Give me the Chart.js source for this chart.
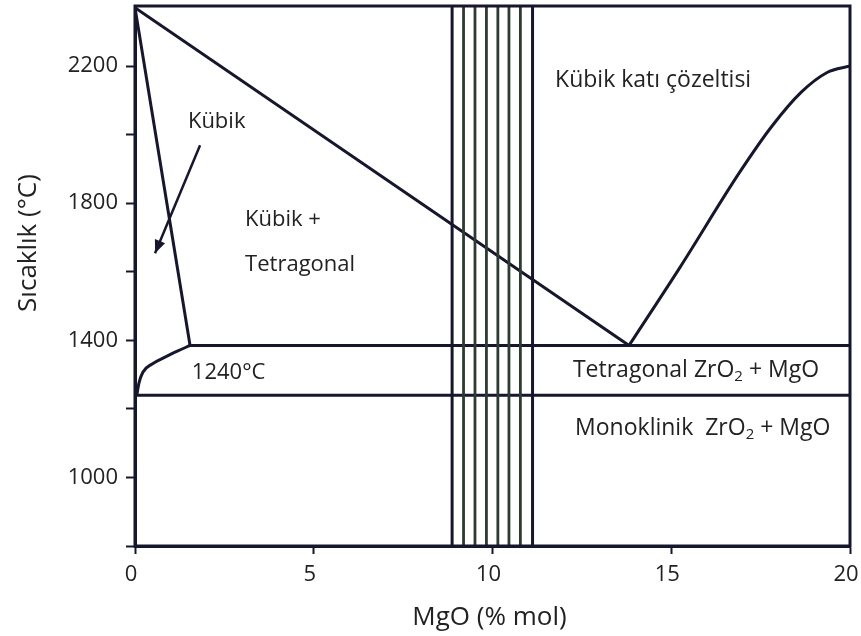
<!DOCTYPE html>
<html>
<head>
<meta charset="utf-8">
<script src="https://cdn.jsdelivr.net/npm/chart.js@4/dist/chart.umd.min.js"></script>
<style>
  html, body { margin: 0; padding: 0; background: #ffffff; }
  #wrap { width: 861px; height: 636px; }
</style>
</head>
<body>
<div id="wrap"><canvas id="c" width="861" height="636"></canvas></div>
<script>
// ZrO2–MgO phase diagram: MgO content (% mol) vs temperature (°C)

// axis ranges and tick labels
const xTickValues = [0, 5, 10, 15, 20];
const yTickValues = [800, 1000, 1200, 1400, 1600, 1800, 2000, 2200];
const yTickLabels = [1000, 1400, 1800, 2200];
const yRange = [800, 2375];

// cubic / (cubic + tetragonal) boundary from the apex
const cubicSolvusX = [0, 1.54];
const cubicSolvusY = [2370, 1385];

// long boundary from the apex down to the eutectoid point
const liquidusX = [0, 13.82];
const liquidusY = [2370, 1385];

// cubic solid solution boundary rising to the right edge
const cubicEdgeX = [13.82, 15.24, 16.92, 17.82, 18.63, 19.36, 20];
const cubicEdgeY = [1385, 1612, 1891, 2025, 2123, 2181, 2200];

// small tetragonal boundary near 0 % MgO
const tetraSolvusX = [0.05, 0.11, 0.22, 0.48, 0.84, 1.2, 1.54];
const tetraSolvusY = [1240, 1275, 1307, 1331, 1351, 1369, 1385];

// horizontal isotherms
const eutectoidX = [1.54, 20];
const eutectoidY = [1385, 1385];
const monoclinicX = [0, 20];
const monoclinicY = [1240, 1240];

// hatched composition band
const bandEdges = [8.87, 11.12];
const bandHatch = [9.19, 9.51, 9.83, 10.15, 10.46, 10.78];

// pointer from the "Kübik" label
const arrowX = [1.82, 0.56];
const arrowY = [1969, 1654];

// region labels (data coordinates of the text's left edge / middle)
const regionLabels = [
  { parts: [['Kübik']], x: 1.48, y: 2037, size: 22 },
  { parts: [['Kübik +']], x: 3.08, y: 1751, size: 22 },
  { parts: [['Tetragonal']], x: 3.08, y: 1620, size: 22 },
  { parts: [['Kübik katı çözeltisi']], x: 11.75, y: 2159, size: 23 },
  { parts: [['1240°C']], x: 1.59, y: 1305, size: 22 },
  { parts: [['Tetragonal ZrO'], ['2', 'sub'], [' + MgO']], x: 12.25, y: 1313, size: 23 },
  { parts: [['Monoklinik  ZrO'], ['2', 'sub'], [' + MgO']], x: 12.31, y: 1144, size: 23 }
];

const INK = '#16162c';
const TEXT = '#222222';
const HATCH = '#2e3b33';
const FONT = '"Open Sans", "DejaVu Sans", sans-serif';

function pts(xs, ys) { return xs.map((x, i) => ({ x: x, y: ys[i] })); }

function lineSet(xs, ys, extra) {
  return Object.assign({
    data: pts(xs, ys),
    showLine: true,
    borderColor: INK,
    borderWidth: 3,
    pointRadius: 0,
    pointHoverRadius: 0,
    fill: false,
    tension: 0
  }, extra || {});
}

const datasets = [];
bandHatch.forEach(x => datasets.push(lineSet([x, x], yRange, { borderColor: HATCH, borderWidth: 2.8 })));
bandEdges.forEach(x => datasets.push(lineSet([x, x], yRange, { borderWidth: 3 })));
datasets.push(lineSet(cubicSolvusX, cubicSolvusY));
datasets.push(lineSet(liquidusX, liquidusY));
datasets.push(lineSet(cubicEdgeX, cubicEdgeY, { cubicInterpolationMode: 'monotone' }));
datasets.push(lineSet(tetraSolvusX, tetraSolvusY, { cubicInterpolationMode: 'monotone' }));
datasets.push(lineSet(eutectoidX, eutectoidY));
datasets.push(lineSet(monoclinicX, monoclinicY));
datasets.push(lineSet(arrowX, arrowY, { borderWidth: 2.5, arrowHead: true }));

function drawParts(ctx, parts, x, y, size) {
  let cx = x;
  parts.forEach(p => {
    const sub = p[1] === 'sub';
    const fs = sub ? Math.round(size * 0.65) : size;
    ctx.font = fs + 'px ' + FONT;
    ctx.fillText(p[0], cx, sub ? y + size * 0.28 : y);
    cx += ctx.measureText(p[0]).width;
  });
}

const decorations = {
  id: 'decorations',
  afterDatasetsDraw(chart) {
    const ctx = chart.ctx;
    const a = chart.chartArea;
    const xs = chart.scales.x, ys = chart.scales.y;
    ctx.save();
    // frame around the plot
    ctx.strokeStyle = INK;
    ctx.lineWidth = 3;
    ctx.strokeRect(a.left, a.top, a.right - a.left, a.bottom - a.top);

    // arrow heads
    chart.data.datasets.forEach((ds, i) => {
      if (!ds.arrowHead) return;
      const meta = chart.getDatasetMeta(i).data;
      const p0 = meta[meta.length - 2], p1 = meta[meta.length - 1];
      const ang = Math.atan2(p1.y - p0.y, p1.x - p0.x);
      const L = 13, W = 5.5;
      ctx.fillStyle = INK;
      ctx.beginPath();
      ctx.moveTo(p1.x, p1.y);
      ctx.lineTo(p1.x - L * Math.cos(ang) + W * Math.sin(ang), p1.y - L * Math.sin(ang) - W * Math.cos(ang));
      ctx.lineTo(p1.x - L * Math.cos(ang) - W * Math.sin(ang), p1.y - L * Math.sin(ang) + W * Math.cos(ang));
      ctx.closePath();
      ctx.fill();
    });

    // region labels
    ctx.fillStyle = TEXT;
    ctx.textAlign = 'left';
    ctx.textBaseline = 'middle';
    regionLabels.forEach(l => {
      drawParts(ctx, l.parts, xs.getPixelForValue(l.x), ys.getPixelForValue(l.y), l.size);
    });
    ctx.restore();
  },
  afterDraw(chart) {
    const ctx = chart.ctx;
    const a = chart.chartArea;
    ctx.save();
    ctx.fillStyle = TEXT;
    ctx.textAlign = 'center';
    ctx.textBaseline = 'middle';
    ctx.font = '26px ' + FONT;
    ctx.fillText('MgO (% mol)', (a.left + a.right) / 2 - 3, 618);
    ctx.translate(29, 243);
    ctx.rotate(-Math.PI / 2);
    ctx.fillText('Sıcaklık (°C)', 0, 0);
    ctx.restore();
  }
};

new Chart(document.getElementById('c'), {
  type: 'scatter',
  data: { datasets: datasets },
  options: {
    responsive: false,
    animation: false,
    devicePixelRatio: 1,
    layout: { padding: { top: 6, right: 11, left: 0, bottom: 0 } },
    plugins: { legend: { display: false }, tooltip: { enabled: false } },
    scales: {
      x: {
        type: 'linear',
        min: xTickValues[0],
        max: xTickValues[xTickValues.length - 1],
        afterBuildTicks: s => { s.ticks = xTickValues.map(v => ({ value: v })); },
        afterFit: s => { s.height = 90; s.paddingLeft = 0; s.paddingRight = 0; },
        ticks: { color: TEXT, font: { size: 22, family: FONT }, padding: 8, maxRotation: 0, labelOffset: -4 },
        grid: { drawOnChartArea: false, drawTicks: true, tickLength: 8, tickWidth: 2, color: INK },
        border: { display: true, color: INK, width: 3 }
      },
      y: {
        type: 'linear',
        min: yRange[0],
        max: yRange[1],
        afterBuildTicks: s => { s.ticks = yTickValues.map(v => ({ value: v })); },
        afterFit: s => { s.width = 135; s.paddingTop = 0; s.paddingBottom = 0; },
        ticks: {
          color: TEXT,
          font: { size: 22, family: FONT },
          padding: 8,
          autoSkip: false,
          callback: v => yTickLabels.includes(Math.round(v)) ? String(Math.round(v)) : ''
        },
        grid: { drawOnChartArea: false, drawTicks: true, tickLength: 9, tickWidth: 2, color: INK },
        border: { display: true, color: INK, width: 3 }
      }
    }
  },
  plugins: [decorations]
});
</script>
</body>
</html>
